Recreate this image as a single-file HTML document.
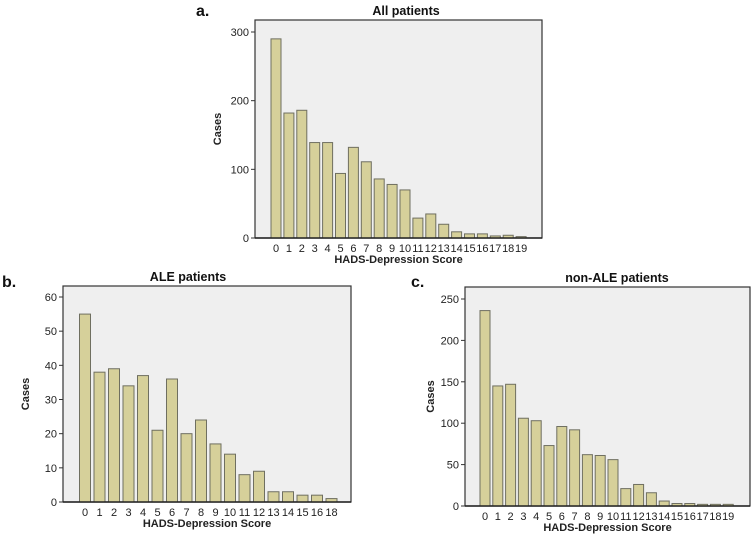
<!DOCTYPE html>
<html><head><meta charset="utf-8">
<style>
body{margin:0;background:#fff;font-family:"Liberation Sans",Arial,sans-serif;}
svg{display:block}
</style></head>
<body>
<svg id="s" width="753" height="536" xmlns="http://www.w3.org/2000/svg"></svg>
<script>
const catsA=["0","1","2","3","4","5","6","7","8","9","10","11","12","13","14","15","16","17","18","19"];
const valsA=[290,182,186,139,139,94,132,111,86,78,70,29,35,20,9,6,6,3,4,2];
const ticksA=[0,100,200,300];
const catsB=["0","1","2","3","4","5","6","7","8","9","10","11","12","13","14","15","16","18"];
const valsB=[55,38,39,34,37,21,36,20,24,17,14,8,9,3,3,2,2,1];
const ticksB=[0,10,20,30,40,50,60];
const catsC=["0","1","2","3","4","5","6","7","8","9","10","11","12","13","14","15","16","17","18","19"];
const valsC=[236,145,147,106,103,73,96,92,62,61,56,21,26,16,6,3,3,2,2,2];
const ticksC=[0,50,100,150,200,250];

const svg=document.getElementById('s');
const NS="http://www.w3.org/2000/svg";
function mk(tag,attrs,parent){const e=document.createElementNS(NS,tag);for(const k in attrs)e.setAttribute(k,attrs[k]);(parent||svg).appendChild(e);return e;}

function chart(o){
  const g=mk('g',{});
  
  
  const box=mk('rect',{x:o.L,y:o.T,width:o.R-o.L,height:o.B-o.T,fill:'#efefef',stroke:'#333','stroke-width':1.2},g);
  
  
  const tMax=o.ticks[o.ticks.length-1];
  const y=v=>o.B-(o.B-o.topTickY)*v/tMax;
  const x=i=>o.x0+i*o.step;
  o.ticks.forEach(t=>{
    mk('line',{x1:o.L-4,x2:o.L,y1:y(t),y2:y(t),stroke:'#333'},g);
    const tx=mk('text',{x:o.L-6,y:y(t)+4,'text-anchor':'end','font-size':11,fill:'#222'},g);
    tx.textContent=t;
    
    
  });
  o.vals.forEach((v,i)=>{
    const r=mk('rect',{x:x(i)-o.bw/2,y:y(v),width:o.bw,height:o.B-y(v),fill:'#d6d09a',stroke:'#6f6f60','stroke-width':1},g);
    
    
    const tx=mk('text',{x:x(i),y:o.B+14,'text-anchor':'middle','font-size':11,fill:'#222'},g);
    tx.textContent=o.cats[i];
    
    
  });
  mk('line',{x1:o.L,x2:o.R,y1:o.B,y2:o.B,stroke:'#222','stroke-width':1.5},g);
  const xt=mk('text',{x:(o.L+o.R)/2,y:o.B+25,'text-anchor':'middle','font-size':11,'font-weight':'bold',fill:'#222'},g);
  xt.textContent='HADS-Depression Score';
  
  
  const yt=mk('text',{x:o.yTitleX,y:(o.T+o.B)/2,'text-anchor':'middle','font-size':11,'font-weight':'bold',fill:'#222',transform:`rotate(-90 ${o.yTitleX} ${(o.T+o.B)/2})`},g);
  yt.textContent='Cases';
  
  
  const ti=mk('text',{x:o.titleX,y:o.T-5,'text-anchor':'middle','font-size':12.5,'font-weight':'bold',fill:'#111'},g);
  ti.textContent=o.title;
  
  
  const pl=mk('text',{x:o.panelX,y:o.panelY,'font-size':16,'font-weight':'bold',fill:'#111'},g);
  pl.textContent=o.panel;
  
  
}

chart({name:'chart-all-patients',cats:catsA,vals:valsA,ticks:ticksA,L:255,R:542,T:20,B:238,topTickY:32,x0:276,step:12.9,bw:10,yTitleX:221,title:'All patients',titleX:406,panel:'a.',panelX:196,panelY:16});
chart({name:'chart-ale-patients',cats:catsB,vals:valsB,ticks:ticksB,L:63,R:351,T:286,B:502,topTickY:297,x0:85,step:14.5,bw:11,yTitleX:29,title:'ALE patients',titleX:188,panel:'b.',panelX:2,panelY:287});
chart({name:'chart-non-ale-patients',cats:catsC,vals:valsC,ticks:ticksC,L:465,R:750,T:287,B:506,topTickY:299,x0:485,step:12.8,bw:10,yTitleX:434,title:'non-ALE patients',titleX:617,panel:'c.',panelX:411,panelY:287});
</script>
</body></html>
